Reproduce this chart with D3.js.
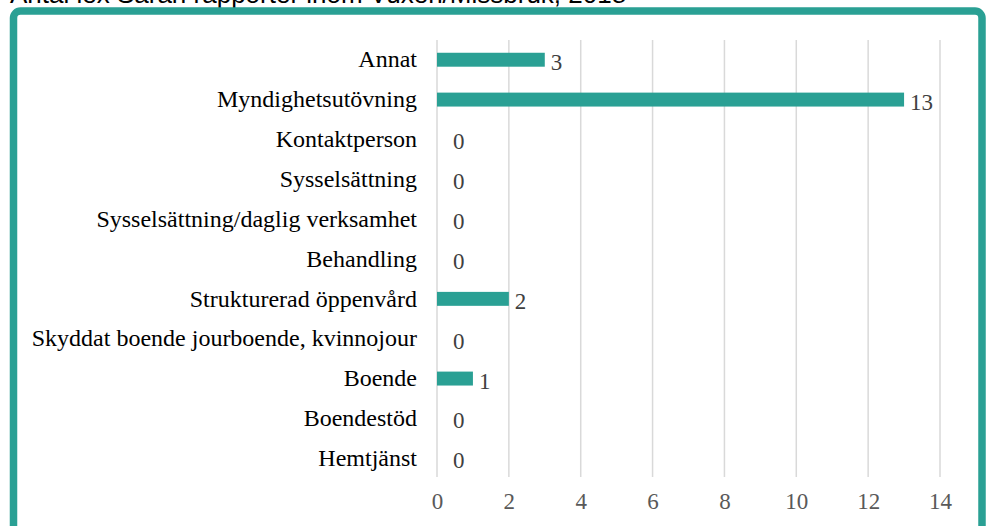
<!DOCTYPE html>
<html lang="sv">
<head>
<meta charset="UTF-8">
<title>Lex Sarah</title>
<style>
  body { margin: 0; background: #fff; }
  svg { display: block; }
</style>
</head>
<body>
<script src="https://cdn.jsdelivr.net/npm/d3@7"></script>
<script>
// data, top to bottom as in the chart
const categories = ["Annat", "Myndighetsutövning", "Kontaktperson", "Sysselsättning",
  "Sysselsättning/daglig verksamhet", "Behandling", "Strukturerad öppenvård",
  "Skyddat boende jourboende, kvinnojour", "Boende", "Boendestöd", "Hemtjänst"];
const values = [3, 13, 0, 0, 0, 0, 2, 0, 1, 0, 0];
const xTicks = [0, 2, 4, 6, 8, 10, 12, 14];
const title = "Antal lex Sarah rapporter inom Vuxen/Missbruk, 2018";

const width = 989, height = 526;
const teal = "#2aa094";
const serif = "'Liberation Serif', 'Times New Roman', serif";

const svg = d3.create("svg")
  .attr("width", width)
  .attr("height", height)
  .attr("viewBox", [0, 0, width, height]);

// title, cut off at top like the reference
svg.append("text")
  .attr("x", 10)
  .attr("y", 2.5)
  .attr("font-family", "'Liberation Sans', Arial, sans-serif")
  .attr("font-size", 26)
  .attr("fill", "#000")
  .text(title);

// frame
svg.append("rect")
  .attr("x", 13.5)
  .attr("y", 11)
  .attr("width", 968.5)
  .attr("height", 560)
  .attr("rx", 7)
  .attr("fill", "none")
  .attr("stroke", teal)
  .attr("stroke-width", 7.5);

const x = d3.scaleLinear()
  .domain([0, 14])
  .range([437, 940]);

const y = d3.scaleBand()
  .domain(categories)
  .range([40, 478])
  .paddingInner(0.65)
  .paddingOuter(0.32);

// gridlines
svg.append("g")
  .selectAll("line")
  .data(xTicks)
  .join("line")
  .attr("x1", d => x(d))
  .attr("x2", d => x(d))
  .attr("y1", 40)
  .attr("y2", 477)
  .attr("stroke", "#d9d9d9")
  .attr("stroke-width", 1.5);

// x axis labels
const xAxis = svg.append("g")
  .attr("transform", `translate(0,${485})`)
  .call(d3.axisBottom(x).tickValues(xTicks).tickSize(0).tickPadding(8));
xAxis.select(".domain").remove();
xAxis.selectAll("text")
  .attr("font-family", serif)
  .attr("font-size", 23)
  .attr("fill", "#595959");

// category labels
const yAxis = svg.append("g")
  .attr("transform", `translate(417,0)`)
  .call(d3.axisLeft(y).tickSize(0).tickPadding(0));
yAxis.select(".domain").remove();
yAxis.selectAll("text")
  .attr("font-family", serif)
  .attr("font-size", 24)
  .attr("fill", "#000");

const rows = categories.map((c, i) => ({ cat: c, val: values[i] }));

// bars
svg.append("g")
  .selectAll("rect")
  .data(rows.filter(d => d.val > 0))
  .join("rect")
  .attr("x", x(0))
  .attr("y", d => y(d.cat))
  .attr("width", d => x(d.val) - x(0))
  .attr("height", y.bandwidth())
  .attr("fill", teal);

// value labels
svg.append("g")
  .selectAll("text")
  .data(rows)
  .join("text")
  .attr("x", d => x(d.val) + (d.val === 0 ? 16 : 6))
  .attr("y", d => y(d.cat) + y.bandwidth() / 2 + 10)
  .attr("font-family", serif)
  .attr("font-size", 23)
  .attr("fill", "#404040")
  .text(d => d.val);

document.body.appendChild(svg.node());
</script>
</body>
</html>
